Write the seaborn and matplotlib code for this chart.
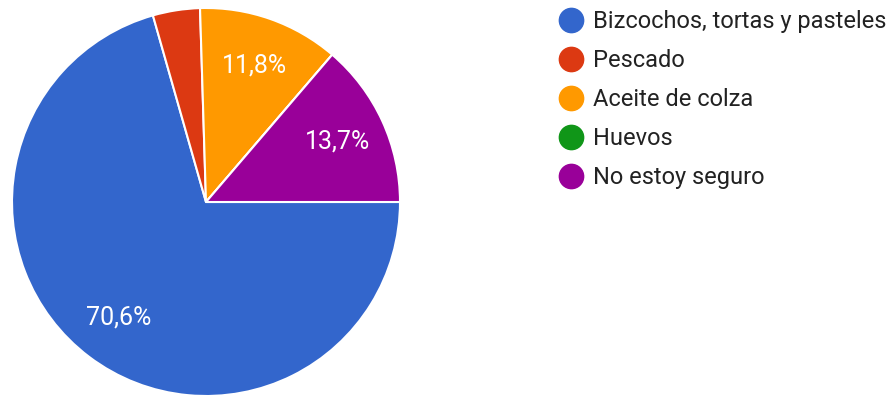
import matplotlib
matplotlib.use("Agg")
import matplotlib.pyplot as plt
from matplotlib.lines import Line2D
import seaborn as sns

categories = ["Bizcochos, tortas y pasteles", "Pescado", "Aceite de colza", "Huevos", "No estoy seguro"]
responses = [36, 2, 6, 0, 7]
colors = ["#3366cc", "#dc3912", "#ff9900", "#109618", "#990099"]

sns.set_theme(style="white")
plt.rcParams["font.family"] = ["Roboto", "DejaVu Sans"]

W, H, DPI = 894, 397, 100
fig = plt.figure(figsize=(W / DPI, H / DPI), dpi=DPI)

# pie centred at (206, 202) px with radius 194 px
cx, cy, r = 206, 202, 194
ax = fig.add_axes([(cx - r) / W, 1 - (cy + r) / H, 2 * r / W, 2 * r / H])


def pct_label(p):
    return f"{p:.1f}%".replace(".", ",") if p >= 5 else ""


wedges, texts, autotexts = ax.pie(
    responses,
    colors=colors,
    startangle=0,
    counterclock=False,
    autopct=pct_label,
    pctdistance=0.745,
    radius=1.0,
    wedgeprops=dict(edgecolor="white", linewidth=1.5),
    textprops=dict(color="white", fontsize=18),
)
ax.set_xlim(-1, 1)
ax.set_ylim(-1, 1)
ax.set_aspect("equal")
ax.axis("off")

handles = [
    Line2D([0], [0], marker="o", linestyle="none", markersize=17.5,
           markerfacecolor=c, markeredgecolor=c)
    for c in colors
]
fig.legend(
    handles, categories,
    loc="upper left",
    bbox_to_anchor=(558 / W, 1 - 10 / H),
    frameon=False,
    fontsize=17,
    labelcolor="#222222",
    handlelength=1.1,
    handletextpad=0.4,
    labelspacing=0.68,
    borderpad=0,
    borderaxespad=0,
)

fig.savefig("out.png", dpi=DPI, facecolor="white")
